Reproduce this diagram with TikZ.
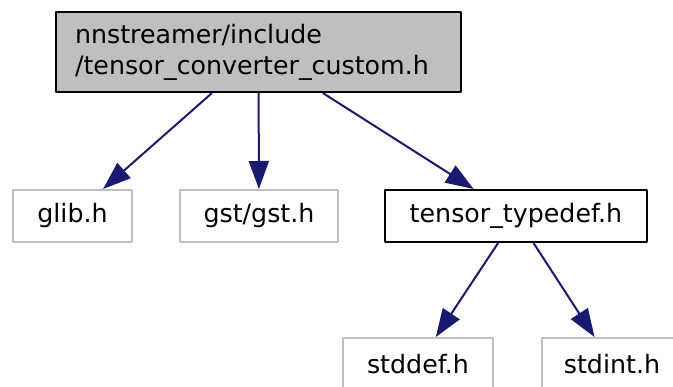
\documentclass[tikz,border=0pt]{standalone}
\usepackage{fontspec}
\setmainfont{DejaVu Sans}
\usetikzlibrary{arrows.meta}
\definecolor{edgeblue}{HTML}{191970}
\definecolor{boxgray}{HTML}{BFBFBF}

\begin{document}
\begin{tikzpicture}[x=1pt, y=-1pt, line join=round,
  file/.style={draw=boxgray, line width=2pt, minimum height=52pt, inner sep=0pt,
    font=\fontsize{25.3}{31}\selectfont},
  mainfile/.style={file, draw=black, fill=boxgray, minimum height=80pt,
    text width=367pt, align=left},
  docfile/.style={file, draw=black},
  incl/.style={draw=edgeblue, line width=2pt, -{Triangle[length=28pt, width=20pt]}}]
  % ========================================================
  % 0. CANVAS (pixel grid of the graph)
  % ========================================================
  \useasboundingbox (0,0) rectangle (673,387);

  % ========================================================
  % 1. FILE NODES
  % ========================================================
  % documented header (top)
  \node[mainfile, minimum width=405pt] (custom) at (258.5,52)
    {nnstreamer/include\\/tensor\_converter\_custom.h};

  % headers it includes
  \node[file, minimum width=119pt] (glib) at (72.5,216) {glib.h};
  \node[file, minimum width=158pt] (gst) at (259,216) {gst/gst.h};
  \node[docfile, minimum width=262pt] (typedef) at (516,216) {tensor\_typedef.h};

  % headers included by tensor_typedef.h
  \node[file, minimum width=150pt] (stddef) at (418,364) {stddef.h};
  \node[file, minimum width=140pt] (stdint) at (612,364) {stdint.h};

  % ========================================================
  % 2. INCLUDE EDGES
  % ========================================================
  \draw[incl] (custom) -- (glib);
  \draw[incl] (custom) -- (gst);
  \draw[incl] (custom) -- (typedef);
  \draw[incl] (typedef) -- (stddef);
  \draw[incl] (typedef) -- (stdint);

\end{tikzpicture}
\end{document}
